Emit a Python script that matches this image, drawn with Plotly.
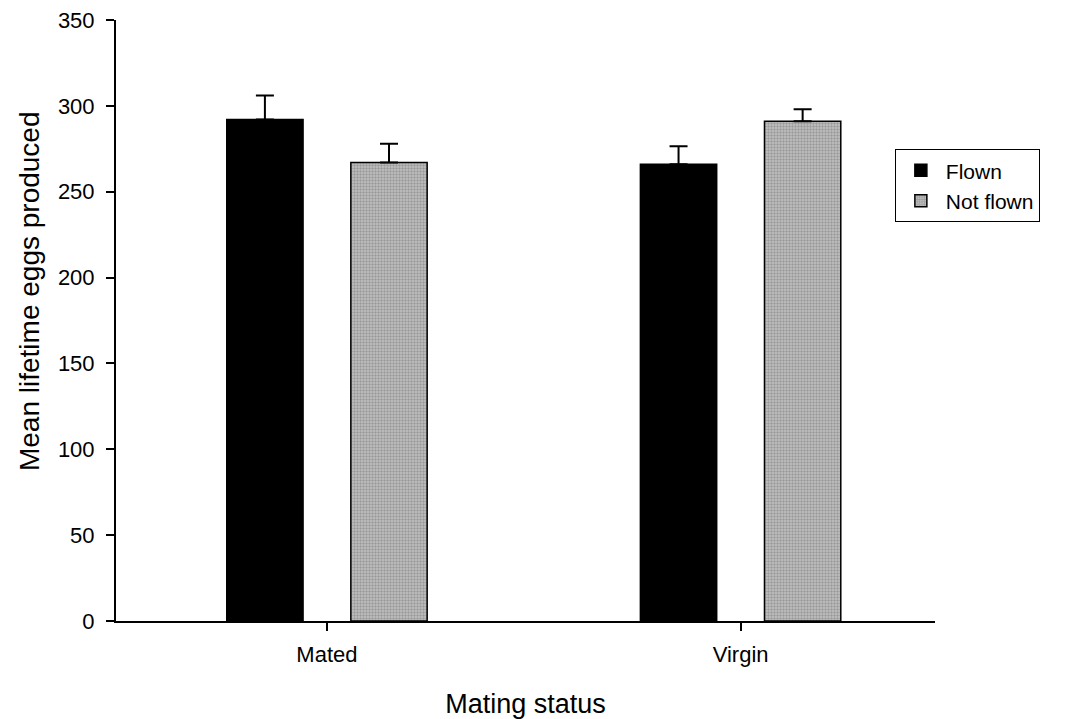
import plotly.graph_objects as go

# Mean lifetime egg production by mating status and flight treatment
categories = ["Mated", "Virgin"]
flown_means = [292, 266]
flown_se = [14, 10.5]
not_flown_means = [267, 291]
not_flown_se = [11, 7]
y_ticks = [0, 50, 100, 150, 200, 250, 300, 350]

font_family = "Liberation Sans, Arial, sans-serif"

fig = go.Figure()
fig.add_trace(go.Bar(
    name="Flown",
    x=categories,
    y=flown_means,
    marker=dict(color="black", line=dict(color="black", width=1.5)),
    error_y=dict(type="data", array=flown_se, symmetric=False, arrayminus=[0, 0],
                 color="black", thickness=2, width=9),
))
fig.add_trace(go.Bar(
    name="Not flown",
    x=categories,
    y=not_flown_means,
    marker=dict(color="#b0b0b0", line=dict(color="black", width=1.5),
                pattern=dict(shape=".", fgcolor="#6f6f6f", bgcolor="#c4c4c4",
                             size=3, solidity=0.5)),
    error_y=dict(type="data", array=not_flown_se, symmetric=False, arrayminus=[0, 0],
                 color="black", thickness=2, width=9),
))

fig.update_layout(
    width=1085,
    height=719,
    margin=dict(l=116, r=150, t=20, b=98),
    paper_bgcolor="white",
    plot_bgcolor="white",
    barmode="group",
    bargap=0.4,
    bargroupgap=0.385,
    font=dict(family=font_family, color="black", size=22),
    showlegend=True,
    legend=dict(
        x=0.951, xanchor="left", y=0.785, yanchor="top",
        xref="paper", yref="paper",
        bordercolor="black", borderwidth=1, bgcolor="white",
        font=dict(size=21, family=font_family),
        itemwidth=40, tracegroupgap=0,
    ),
    xaxis=dict(
        range=[-0.51, 1.47],
        automargin=False,
        showline=True, linecolor="black", linewidth=2,
        ticks="outside", ticklen=8, tickwidth=2, tickcolor="black",
        tickfont=dict(size=22),
        ticklabelstandoff=5,
        title=dict(text="Mating status", font=dict(size=27), standoff=28),
        showgrid=False, zeroline=False,
    ),
    yaxis=dict(
        range=[0, 350],
        automargin=False,
        tickvals=y_ticks,
        showline=True, linecolor="black", linewidth=2,
        ticks="outside", ticklen=8, tickwidth=2, tickcolor="black",
        tickfont=dict(size=22),
        ticklabelstandoff=7,
        showgrid=False, zeroline=False,
    ),
    annotations=[dict(
        text="Mean lifetime eggs produced",
        textangle=-90,
        xref="paper", yref="paper",
        x=0, y=0.549, xanchor="center", yanchor="middle",
        xshift=-87,
        showarrow=False,
        font=dict(size=28, family=font_family, color="black"),
    )],
)

fig.write_html("out.html")
